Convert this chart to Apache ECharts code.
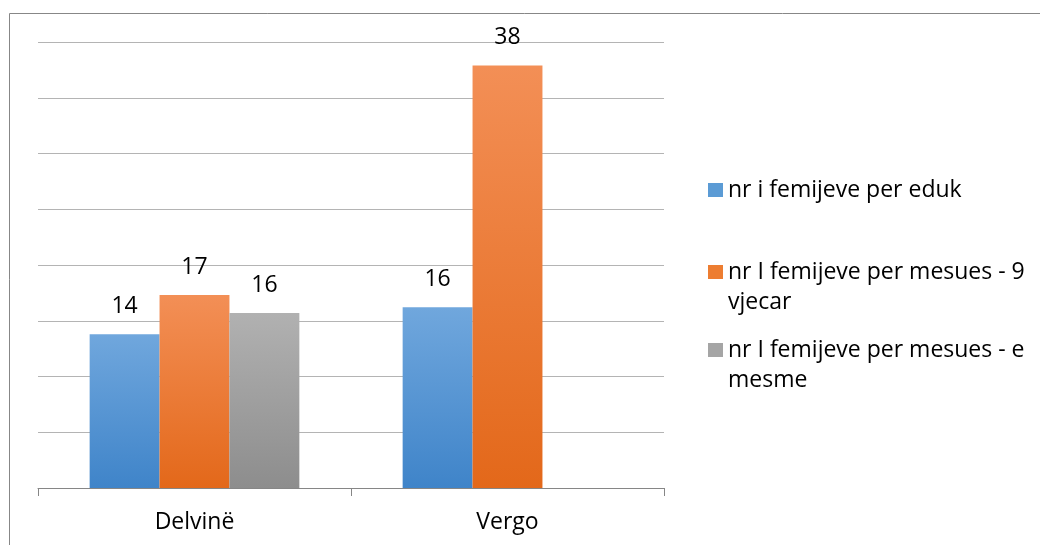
<!DOCTYPE html>
<html>
<head>
<meta charset="utf-8">
<script src="https://cdn.jsdelivr.net/npm/echarts@6/dist/echarts.min.js"></script>
<style>html,body{margin:0;padding:0;background:#fff;}#c{width:1041px;height:545px;}</style>
</head>
<body>
<div id="c"></div>
<script>
const categories = ['Delvinë', 'Vergo'];
const seriesNames = ['nr i femijeve per eduk', 'nr I femijeve per mesues - 9 vjecar', 'nr I femijeve per mesues - e mesme'];
const eduk = [13.8, 16.2];
const mesues9 = [17.3, 37.9];
const mesuesMesme = [15.7, null];
const legendLabels = ['nr i femijeve per eduk', 'nr I femijeve per mesues - 9\nvjecar', 'nr I femijeve per mesues - e\nmesme'];

const FONT = 'Open Sans';
const FS = 23;
function grad(top, bottom) {
  return new echarts.graphic.LinearGradient(0, 0, 0, 1, [{offset: 0, color: top}, {offset: 1, color: bottom}]);
}
const colors = [grad('#70a7dd', '#3f84c9'), grad('#f38f56', '#e3681a'), grad('#b1b1b1', '#8d8d8d')];
const iconColors = ['#5b9bd5', '#ed7d31', '#a5a5a5'];
const values = [eduk, mesues9, mesuesMesme];

const chart = echarts.init(document.getElementById('c'), null, {renderer: 'canvas'});
const legendTops = [170, 252, 330];
const oneLineIcon = 'path://M0,0L15,0L15,14L0,14Z';
const twoLineIcon = 'path://M0,0L15,0L15,14L0,14Z M0,44L0.001,44L0,44Z';
chart.setOption({
  animation: false,
  color: iconColors,
  grid: {left: 38, right: 377, top: 42, bottom: 57},
  xAxis: {
    type: 'category',
    data: categories,
    axisLine: {lineStyle: {color: '#868686', width: 1}},
    axisTick: {show: true, length: 8, lineStyle: {color: '#868686'}},
    axisLabel: {color: '#000', fontFamily: FONT, fontSize: FS, margin: 23}
  },
  yAxis: {
    type: 'value', min: 0, max: 40, interval: 5,
    axisLabel: {show: false}, axisLine: {show: false}, axisTick: {show: false},
    splitLine: {lineStyle: {color: '#b4b4b4', width: 1}}
  },
  legend: seriesNames.map((n, i) => {
    const two = legendLabels[i].includes('\n');
    return {
      data: [{name: n, itemStyle: {color: iconColors[i]}}],
      orient: 'vertical', left: 703, top: legendTops[i],
      icon: two ? twoLineIcon : oneLineIcon,
      itemWidth: 15, itemHeight: two ? 44 : 14, itemGap: 7,
      formatter: () => legendLabels[i],
      textStyle: {color: '#000', fontFamily: FONT, fontSize: FS, lineHeight: 30},
      selectedMode: false
    };
  }),
  graphic: [
    {type: 'line', shape: {x1: 9.5, y1: 13.5, x2: 9.5, y2: 545}, style: {stroke: '#878787', lineWidth: 1}},
    {type: 'line', shape: {x1: 9.5, y1: 13.5, x2: 1040, y2: 13.5}, style: {stroke: '#878787', lineWidth: 1}}
  ],
  series: seriesNames.map((n, i) => ({
    name: n, type: 'bar', data: values[i],
    barGap: '0%', barCategoryGap: '33%',
    itemStyle: {color: colors[i]},
    label: {show: true, position: 'top', distance: 16, color: '#000', fontFamily: FONT, fontSize: FS,
      formatter: p => p.value == null ? '' : Math.round(p.value)}
  }))
});
</script>
</body>
</html>
